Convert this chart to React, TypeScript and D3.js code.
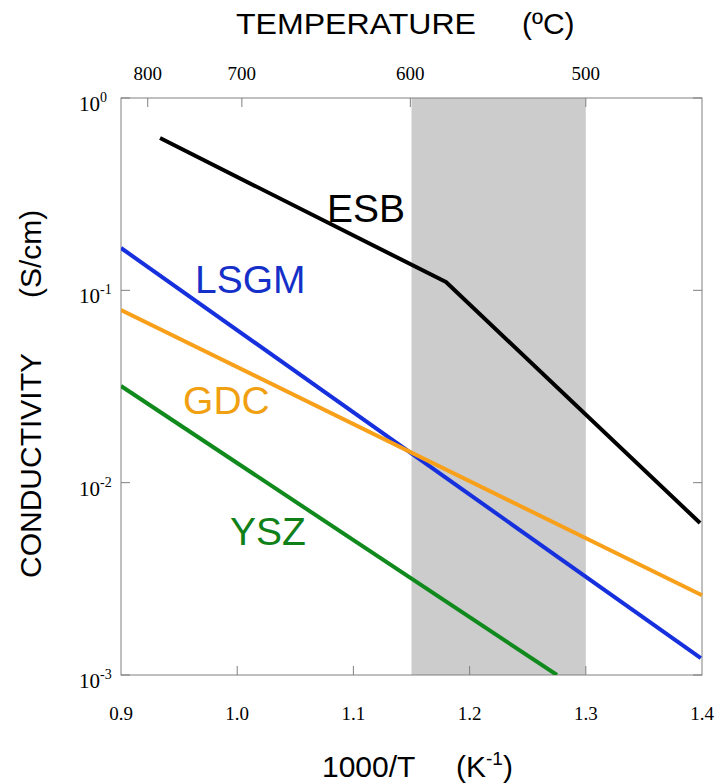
import React from "react";
import * as d3 from "d3";

// ---- data (x = 1000/T in K^-1, y = conductivity in S/cm) ----
const esbX = [0.9336, 1.1797, 1.3983];
const esbY = [0.619, 0.1104, 0.00617];
const lsgmX = [0.9, 1.399];
const lsgmY = [0.166, 0.001225];
const gdcX = [0.9, 1.4];
const gdcY = [0.079, 0.0026];
const yszX = [0.9, 1.2752];
const yszY = [0.0318, 0.001];

const seriesNames = ["ESB", "LSGM", "GDC", "YSZ"];
const labelX = [1.0773, 0.9637, 0.9534, 0.9938];
const labelY = [0.2266, 0.0968, 0.02275, 0.00474];

const bottomTicks = [0.9, 1.0, 1.1, 1.2, 1.3, 1.4];
const bottomTickLabels = ["0.9", "1.0", "1.1", "1.2", "1.3", "1.4"];
const topTickPos = [0.923, 1.004, 1.149, 1.3];
const topTickLabels = ["800", "700", "600", "500"];
const yTicks = [1, 0.1, 0.01, 0.001];
const yTickExp = ["0", "-1", "-2", "-3"];
const shadeRange = [1.15, 1.3];

const colors = ["#000000", "#1530dc", "#f9a01b", "#108a1c"];
const labelColors = ["#000000", "#1530c8", "#f0a010", "#108018"];

export default function App() {
  const W = 718, H = 784;
  const left = 121, right = 702, top = 98, bottom = 675;
  const x = d3.scaleLinear().domain([0.9, 1.4]).range([left, right]);
  const y = d3.scaleLog().domain([0.001, 1]).range([bottom, top]);
  const line = d3.line<[number, number]>().x((d) => x(d[0])).y((d) => y(d[1]));
  const series: [number, number][][] = [
    esbX.map((v, i) => [v, esbY[i]]),
    lsgmX.map((v, i) => [v, lsgmY[i]]),
    gdcX.map((v, i) => [v, gdcY[i]]),
    yszX.map((v, i) => [v, yszY[i]]),
  ];
  const axisColor = "#808080";
  const serif = "'Liberation Serif'";
  const sans = "'Liberation Sans'";
  const tickLen = 9;

  return (
    <svg width={W} height={H} style={{ position: "absolute", left: 0, top: 0, background: "#fff" }}>
      <defs>
        <clipPath id="plotclip">
          <rect x={left} y={top - 2} width={right - left + 2} height={bottom - top + 2} />
        </clipPath>
      </defs>
      <rect x={x(shadeRange[0])} y={top} width={x(shadeRange[1]) - x(shadeRange[0])} height={bottom - top} fill="#cccccc" />
      {/* frame */}
      <rect x={left} y={top} width={right - left} height={bottom - top} fill="none" stroke={axisColor} strokeWidth={1} />
      {/* bottom ticks */}
      {bottomTicks.slice(1, -1).map((t, i) => (
        <line key={"bt" + i} x1={x(t)} x2={x(t)} y1={bottom} y2={bottom - tickLen} stroke={axisColor} />
      ))}
      {/* top ticks */}
      {topTickPos.map((t, i) => (
        <line key={"tt" + i} x1={x(t)} x2={x(t)} y1={top} y2={top + tickLen} stroke={axisColor} />
      ))}
      {/* y ticks both sides */}
      {yTicks.map((t, i) => (
        <g key={"yt" + i}>
          <line x1={left} x2={left + tickLen} y1={y(t)} y2={y(t)} stroke={axisColor} />
          <line x1={right} x2={right - tickLen} y1={y(t)} y2={y(t)} stroke={axisColor} />
        </g>
      ))}
      {/* lines */}
      <g clipPath="url(#plotclip)">
        {series.map((s, i) => (
          <path key={"s" + i} d={line(s) || ""} fill="none" stroke={colors[i]} strokeWidth={4} strokeLinejoin="round" />
        ))}
      </g>
      {/* series labels */}
      {seriesNames.map((n, i) => (
        <text key={"l" + i} x={x(labelX[i])} y={y(labelY[i])} fill={labelColors[i]} fontFamily={sans} fontSize={39}>
          {n}
        </text>
      ))}
      {/* bottom tick labels */}
      {bottomTicks.map((t, i) => (
        <text key={"bl" + i} x={x(t)} y={720} fontFamily={serif} fontSize={19} textAnchor="middle">
          {bottomTickLabels[i]}
        </text>
      ))}
      {/* top tick labels */}
      {topTickPos.map((t, i) => (
        <text key={"tl" + i} x={x(t)} y={80} fontFamily={serif} fontSize={19} textAnchor="middle">
          {topTickLabels[i]}
        </text>
      ))}
      {/* y tick labels */}
      {yTicks.map((t, i) => (
        <text key={"yl" + i} x={79} y={y(t) + 13} fontFamily={serif} fontSize={21}>
          10
          <tspan dy={-9} fontSize={14}>{yTickExp[i]}</tspan>
        </text>
      ))}
      {/* axis titles */}
      <text x={236} y={34} fontFamily={sans} fontSize={30} textLength={240} lengthAdjust="spacingAndGlyphs">
        TEMPERATURE
      </text>
      <text x={522} y={34} fontFamily={sans} fontSize={30}>
        (ºC)
      </text>
      <text x={322} y={777} fontFamily={sans} fontSize={30}>
        1000/T
      </text>
      <text x={456} y={777} fontFamily={sans} fontSize={30}>
        (K
        <tspan dy={-12} fontSize={19}>-1</tspan>
        <tspan dy={12}>)</tspan>
      </text>
      <g transform="translate(41,0) rotate(-90)">
        <text x={-578} y={0} fontFamily={sans} fontSize={30}>
          CONDUCTIVITY
        </text>
        <text x={-298} y={0} fontFamily={sans} fontSize={30}>
          (S/cm)
        </text>
      </g>
    </svg>
  );
}
